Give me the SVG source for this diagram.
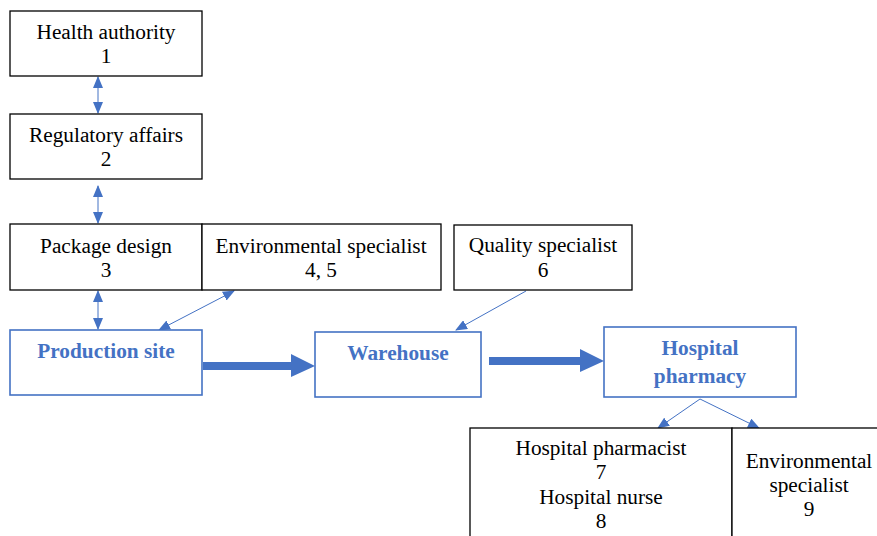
<svg xmlns="http://www.w3.org/2000/svg" width="877" height="536" viewBox="0 0 877 536">
<defs>
<marker id="ah" markerUnits="userSpaceOnUse" markerWidth="12" markerHeight="10" viewBox="0 0 12 10" refX="11" refY="5" orient="auto-start-reverse">
<path d="M0,0 L12,5 L0,10 Z" fill="#4472C4"/>
</marker>
</defs>
<style>
.bk{fill:#fff;stroke:#000;stroke-width:1.3}
.bl{fill:#fff;stroke:#4472C4;stroke-width:1.6}
text{font-family:'Liberation Serif','Times New Roman',serif;font-size:21.3px;text-anchor:middle}
.t{fill:#000}
.tb{font-weight:bold;fill:#4472C4}
.c{stroke:#4472C4;stroke-width:1;fill:none}
.cb{stroke:#4472C4;stroke-width:1;fill:none;marker-start:url(#ah);marker-end:url(#ah)}
.thick{fill:#4472C4}
</style>
<g id="connectors">
<line class="cb" x1="98" y1="77" x2="98" y2="113"/>
<line class="cb" x1="98" y1="186" x2="98" y2="223"/>
<line class="cb" x1="98" y1="291" x2="98" y2="329"/>
<line class="cb" x1="234" y1="291" x2="159" y2="330"/>
<line class="c" x1="526" y1="291" x2="456" y2="330" marker-end="url(#ah)"/>
<line class="c" x1="700" y1="399" x2="658" y2="428" marker-end="url(#ah)"/>
<line class="c" x1="700" y1="399" x2="759" y2="428" marker-end="url(#ah)"/>
<polygon class="thick" points="203,362 291,362 291,354 315,366 291,377 291,370 203,370"/>
<polygon class="thick" points="489,357 580,357 580,349 604,361 580,372 580,365 489,365"/>
</g>
<g id="health-authority">
<rect class="bk" x="10" y="11" width="192" height="65"/>
<text class="t" x="106" y="39">Health authority</text>
<text class="t" x="106" y="63">1</text>
</g>
<g id="regulatory-affairs">
<rect class="bk" x="10" y="114" width="192" height="65"/>
<text class="t" x="106" y="142">Regulatory affairs</text>
<text class="t" x="106" y="166">2</text>
</g>
<g id="package-design">
<rect class="bk" x="10" y="224" width="192" height="66"/>
<text class="t" x="106" y="253">Package design</text>
<text class="t" x="106" y="277">3</text>
</g>
<g id="environmental-specialist-45">
<rect class="bk" x="202" y="224" width="239" height="66"/>
<text class="t" x="321" y="253">Environmental specialist</text>
<text class="t" x="321" y="277">4, 5</text>
</g>
<g id="quality-specialist">
<rect class="bk" x="454" y="225" width="178" height="65"/>
<text class="t" x="543" y="252">Quality specialist</text>
<text class="t" x="543" y="277">6</text>
</g>
<g id="production-site">
<rect class="bl" x="10" y="330" width="192" height="65"/>
<text class="tb" x="106" y="358">Production site</text>
</g>
<g id="warehouse">
<rect class="bl" x="315" y="332" width="166" height="65"/>
<text class="tb" x="398" y="360">Warehouse</text>
</g>
<g id="hospital-pharmacy">
<rect class="bl" x="604" y="327" width="192" height="70"/>
<text class="tb" x="700" y="355">Hospital</text>
<text class="tb" x="700" y="383">pharmacy</text>
</g>
<g id="hospital-staff">
<rect class="bk" x="470" y="428" width="262" height="120"/>
<text class="t" x="601" y="455">Hospital pharmacist</text>
<text class="t" x="601" y="479">7</text>
<text class="t" x="601" y="504">Hospital nurse</text>
<text class="t" x="601" y="528">8</text>
</g>
<g id="environmental-specialist-9">
<rect class="bk" x="732" y="428" width="160" height="120"/>
<text class="t" x="809" y="468">Environmental</text>
<text class="t" x="809" y="492">specialist</text>
<text class="t" x="809" y="516">9</text>
</g>
</svg>
